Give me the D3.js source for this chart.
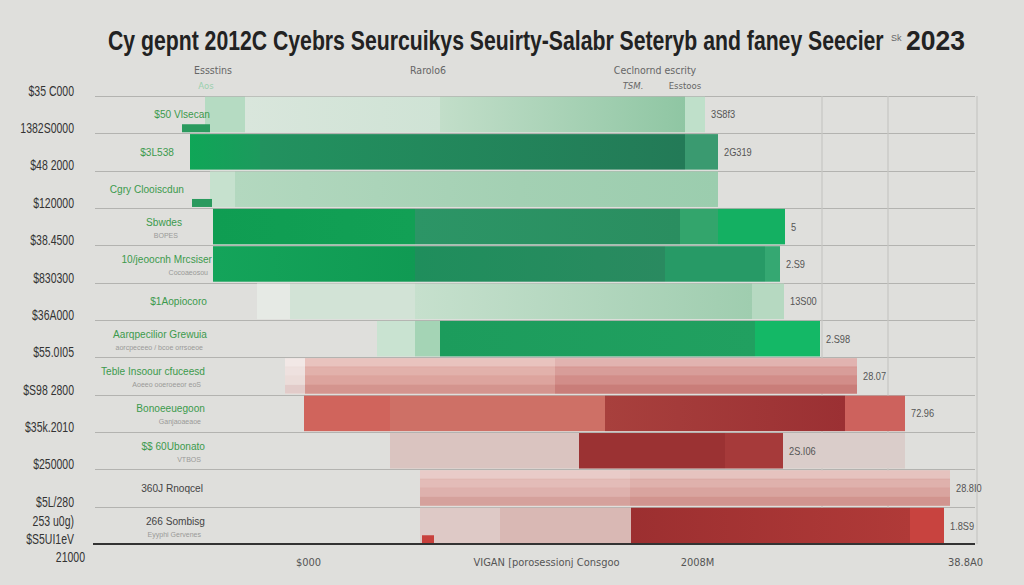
<!DOCTYPE html>
<html><head><meta charset="utf-8">
<script src="https://cdn.jsdelivr.net/npm/d3@7"></script>
<style>html,body{margin:0;padding:0;background:#dfdfdc;} svg{display:block;}</style>
</head><body><svg id="chart" width="1024" height="585"></svg>
<script>
// ---------- DATA ----------
const titleText = "Cy gepnt 2012C Cyebrs Seurcuikys Seuirty-Salabr Seteryb and  faney Seecier";
const titleMark = "Sk";
const titleYear = "2023";
const categories = ["$50 Vlsecan","$3L538","Cgry Clooiscdun","Sbwdes","10/jeoocnh Mrcsiser","$1Aopiocoro",
  "Aarqpecilior Grewuia","Teble Insoour cfuceesd","Bonoeeuegoon","$$ 60Ubonato","360J Rnoqcel","266 Sombisg"];
const subLabels = ["","","","BOPES","Cocoaeosou","","aorcpeceeo / bcoe orrsoeoe","Aoeeo ooeroeeor eoS",
  "Ganjaoaeaoe","VTBOS","","Eyyphi Gervenes"];
const tickLabels = ["$35 C000","1382S0000","$48 2000","$120000","$38.4500","$830300","$36A000",
  "$55.0I05","$S98 2800","$35k.2010","$250000","$5L/280","253 u0g)","$S5UI1eV","21000"];
const xTickLabels = ["$000","VIGAN [porosessionj Consgoo","2008M","38.8A0"];
const xTickValues = [213, 451, 602, 870];
const legendLabels = ["Essstins","Rarolo6","Ceclnornd escrity"];
const legendSubLabels = ["Aos","TSM.","Esstoos"];
const endLabels = ["3S8f3","2G319","","5","2.S9","13S00","2.S98","28.07","72.96","2S.I06","28.8I0","1.8S9"];
const offsetValues = [110, 95,115,118,118,162,282,190,209,295,325,325];
const seg1Values   = [ 40, 70, 25,202,202, 33, 38, 20, 86,189,210, 80];
const seg2Values   = [195,425,285,265,250,125, 25,250,215,146,320,131];
const seg3Values   = [245, 33,198, 38,100,337,315,302,240, 58,  0,279];
const seg4Values   = [ 20,  0,  0, 67, 15, 32, 65,  0, 60,  0,  0, 34];
const ghostValues  = [  0,  0,  0,  0,  0,  0,  0,  0,  0,122,  0,  0];
const badgeStart   = [ 87,  0, 97,  0,  0,  0,  0,  0,  0,  0,  0,327];
const badgeWidth   = [ 28,  0, 20,  0,  0,  0,  0,  0,  0,  0,  0, 12];
const gridValues   = [727, 793, 882];

// ---------- STYLE / LAYOUT ----------
const W = 1024, H = 585;
const mLeft = 95, mRight = 975, mTop = 96, mBottom = 544;
const labelRightEdge = [210,174,184,182,212,207,207,205,205,205,203,205];
const palettes = [
  ['#b5dbc2',['#d9e6dc','#cfe3d5'],['#c2dec9','#8fc6a3'],'#bfe0ca'],
  [['#0fa657','#1c9a5d'],['#22925f','#237a57'],'#3a9a70','#3a9a70'],
  ['#c6e1ce',['#b3d8bf','#a3d0b3'],['#a3d0b3','#9bcdae'],'#9bcdae'],
  [['#0f9d52','#12a055'],['#2c9566','#2a8e60'],'#33a56c','#14b062'],
  [['#14a45a','#109a53'],['#1f8e5c','#2a8a60'],'#279a66','#35a872'],
  ['#e6eae5','#d2e3d6',['#c6e0cd','#9fcdaf'],'#b6d9c1'],
  ['#c9e3d1','#a4d4b5',['#1c9c5c','#21a060'],'#14b866'],
  ['#eadad7','#db9e97','#cf8580','#cf8580'],
  ['#d0645c','#ce7066',['#a8403d','#9b3033'],'#cd625d'],
  ['#dac4c0','#9b3233','#a63a3a','#a63a3a'],
  ['#dcaca7','#d79e98','#d79e98','#d79e98'],
  ['#dec9c6','#d9b8b4',['#9c2f30','#b03a38'],'#c8433f']
];
const ghostColor = '#dacdca';
const badgeColors = ['#2a9a5e','#3aa866','#2a9a5e','#2a9a5e','#2a9a5e','#2a9a5e','#2a9a5e','#c44','#c44','#c44','#c44','#c8403c'];
const stripedRows = [7, 10];
const labelColors = categories.map((c,i)=> i >= 10 ? '#444' : '#3c9a4c');
const narrowFont = "'Liberation Sans','Arial',sans-serif";

const svg = d3.select('#chart');
svg.append('rect').attr('width',W).attr('height',H).attr('fill','#dfdfdc');
const defs = svg.append('defs');

const x = d3.scaleLinear().domain([0, 880]).range([mLeft, mRight]);
const y = d3.scaleBand().domain(d3.range(categories.length)).range([mTop, mBottom]).paddingInner(0.05).paddingOuter(0.02);

// rows table
const keys = ['offset','s1','s2','s3','s4','ghost'];
const rows = categories.map((c,i)=>({i, offset:offsetValues[i], s1:seg1Values[i], s2:seg2Values[i],
  s3:seg3Values[i], s4:seg4Values[i], ghost:ghostValues[i]}));
const stacked = d3.stack().keys(keys)(rows);

// gridlines
const step = y.step();
const boundaries = d3.range(categories.length).map(i => y(i) - step*y.paddingInner()/2);
svg.append('g').selectAll('line').data(boundaries).join('line')
  .attr('x1', mLeft).attr('x2', mRight).attr('y1', d=>Math.round(d)+0.5).attr('y2', d=>Math.round(d)+0.5)
  .attr('stroke', '#b3b3b0').attr('stroke-width', 1);
svg.append('g').selectAll('line').data(gridValues).join('line')
  .attr('x1', d=>x(d)).attr('x2', d=>x(d)).attr('y1', mTop).attr('y2', mBottom)
  .attr('stroke', '#c6c6c3').attr('stroke-width', 1.2);

// fill helper with gradients
let gid = 0;
function fillFor(c){
  if (typeof c === 'string') return c;
  const id = 'g' + (gid++);
  const g = defs.append('linearGradient').attr('id', id).attr('x1','0%').attr('x2','100%');
  g.append('stop').attr('offset','0%').attr('stop-color', c[0]);
  g.append('stop').attr('offset','100%').attr('stop-color', c[1]);
  return `url(#${id})`;
}

// bars
const barG = svg.append('g');
stacked.forEach((layer, k) => {
  if (k === 0) return;
  layer.forEach((d, i) => {
    const w = x(d[1]) - x(d[0]);
    if (w <= 0) return;
    const color = k === 5 ? ghostColor : palettes[i][k-1];
    barG.append('rect')
      .attr('x', x(d[0])).attr('y', y(i)).attr('width', w).attr('height', y.bandwidth())
      .attr('fill', fillFor(color));
  });
});
// stripes on layered rows
const stripeOps = [0.38, 0.2, 0.07, 0];
stripedRows.forEach(i => {
  const x0 = x(stacked[0][i][1]), x1 = x(stacked[5][i][1]);
  const sh = y.bandwidth() / stripeOps.length;
  stripeOps.forEach((o, s) => {
    barG.append('rect').attr('x', x0).attr('y', y(i) + s*sh).attr('width', x1 - x0).attr('height', sh - 0.5)
      .attr('fill', s === 3 ? '#8a2020' : '#fff').attr('opacity', s === 3 ? 0.08 : o);
  });
});
// badges
svg.append('g').selectAll('rect').data(badgeStart.map((b,i)=>({b, w:badgeWidth[i], i})).filter(d=>d.w>0)).join('rect')
  .attr('x', d=>x(d.b)).attr('y', d=>y(d.i) + y.bandwidth() - 8).attr('width', d=>x(d.b+d.w)-x(d.b)).attr('height', 8)
  .attr('fill', d=>badgeColors[d.i]);

// axis baseline
svg.append('line').attr('x1', mLeft-2).attr('x2', mRight).attr('y1', mBottom).attr('y2', mBottom)
  .attr('stroke', '#333').attr('stroke-width', 2);

// category labels
const labelFont = "'Liberation Sans Narrow','DejaVu Sans Condensed','Liberation Sans',sans-serif";
const catG = svg.append('g');
categories.forEach((c,i) => {
  const cy = y(i) + y.bandwidth()/2;
  const hasSub = subLabels[i] !== '';
  const ex = labelRightEdge[i];
  catG.append('text').attr('transform', `translate(${ex},${hasSub ? cy - 1 : cy + 4}) scale(0.88,1)`).attr('text-anchor','end')
    .attr('font-family', narrowFont).attr('font-size', 11.5).attr('fill', labelColors[i]).text(c);
  if (hasSub) catG.append('text').attr('transform', `translate(${ex - 4},${cy + 11}) scale(0.88,1)`).attr('text-anchor','end')
    .attr('font-family', narrowFont).attr('font-size', 8).attr('fill', '#9a9a98').text(subLabels[i]);
});

// end labels
svg.append('g').selectAll('text').data(endLabels.map((t,i)=>({t,i}))).join('text')
  .attr('transform', d => `translate(${x(stacked[4][d.i][1]) + 6},${y(d.i) + y.bandwidth()/2 + 4}) scale(0.88,1)`)
  .attr('font-family', narrowFont).attr('font-size', 10.5).attr('fill', '#555').text(d=>d.t);

// left tick labels
const tickY = tickLabels.map((t,i) => i < categories.length ? y(i) - 1 : mBottom + (i - categories.length - 1) * 18);
svg.append('g').selectAll('text').data(tickLabels).join('text')
  .attr('transform', (d,i)=> `translate(${i === tickLabels.length-1 ? 85 : 74},${tickY[i]}) scale(0.7,1)`)
  .attr('text-anchor','end').attr('font-family', narrowFont).attr('font-size', 15)
  .attr('fill', '#333').text(d=>d);

// x axis tick labels
const xAxis = d3.axisBottom(x).tickValues(xTickValues).tickSize(0).tickPadding(14)
  .tickFormat((d,i)=>xTickLabels[i]);
const xg = svg.append('g').attr('transform', `translate(0,${mBottom})`).call(xAxis);
xg.select('.domain').remove();
xg.selectAll('text').attr('font-family', labelFont).attr('font-size', 11).attr('fill', '#555');

// legend headers
const legendX = [213, 428, 655];
svg.append('g').selectAll('text').data(legendLabels).join('text')
  .attr('x', (d,i)=>legendX[i]).attr('y', 74).attr('text-anchor','middle')
  .attr('font-family', labelFont).attr('font-size', 10.5).attr('fill', '#666').text(d=>d);
const legendSubX = [206, 633, 685];
svg.append('g').selectAll('text').data(legendSubLabels).join('text')
  .attr('x', (d,i)=>legendSubX[i]).attr('y', 89).attr('text-anchor','middle')
  .attr('font-family', labelFont).attr('font-size', 9.5).attr('font-style', (d,i)=> i===1?'italic':'normal')
  .attr('fill', (d,i)=> i===0 ? '#9ccfae' : '#666').text(d=>d);

// title: scaled horizontally to fit measured width
const titleFont = "'Liberation Sans','Arial',sans-serif";
function fitText(str, x0, width, y0, size, weight, color){
  const t = svg.append('text').attr('font-family', titleFont).attr('font-size', size)
    .attr('font-weight', weight).attr('fill', color).text(str);
  const natural = t.node().getComputedTextLength();
  t.attr('transform', `translate(${x0},${y0}) scale(${width/natural},1)`);
  return t;
}
fitText(titleText, 108, 776, 50, 28, 'bold', '#222');
svg.append('text').attr('x', 891).attr('y', 41)
  .attr('font-family', titleFont).attr('font-size', 9).attr('fill', '#666').text(titleMark);
fitText(titleYear, 906, 59, 50, 28, 'bold', '#222');
</script></body></html>
